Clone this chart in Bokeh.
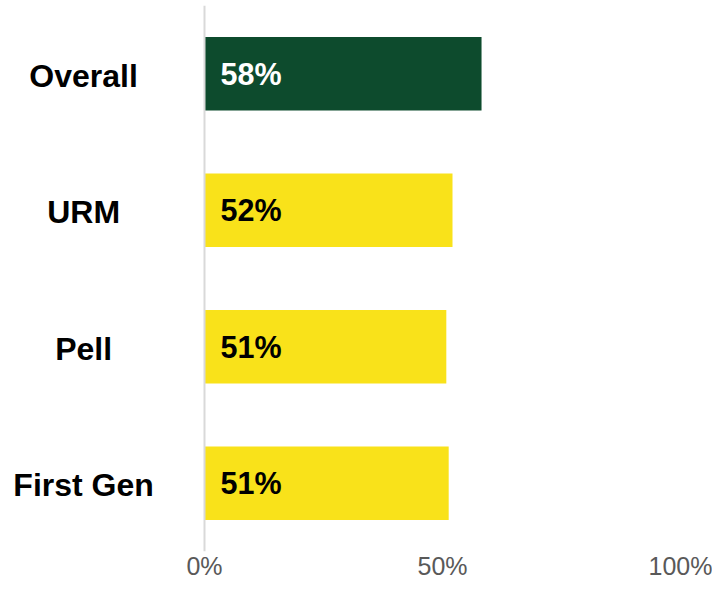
from bokeh.plotting import figure
from bokeh.models import FactorRange, Range1d, FixedTicker, ColumnDataSource, Span
from bokeh.core.properties import value
from bokeh.embed import file_html
from bokeh.resources import INLINE

# ---- data ----
categories = ["Overall", "URM", "Pell", "First Gen"]
rates = [58.2, 52.1, 50.8, 51.3]
rate_labels = ["58%", "52%", "51%", "51%"]
bar_colors = ["#0d4b2d", "#f9e21a", "#f9e21a", "#f9e21a"]
label_colors = ["#ffffff", "#000000", "#000000", "#000000"]
tick_values = [0, 50, 100]
tick_labels = ["0%", "50%", "100%"]

FONT = "Liberation Sans"

# frame spans the whole width; the left part (negative x) holds the category names
p = figure(
    width=712, height=582,
    y_range=FactorRange(*reversed(categories), range_padding=0),
    x_range=Range1d(-42.86, 100),
    output_backend="svg", toolbar_location=None,
    min_border_left=0, min_border_right=32, min_border_top=5, min_border_bottom=0,
)
p.outline_line_color = None
p.grid.grid_line_color = None
p.background_fill_color = "white"
p.yaxis.visible = False

src = ColumnDataSource(dict(cat=categories, rate=rates, lab=rate_labels,
                            color=bar_colors, tcolor=label_colors,
                            zero=[0] * len(categories),
                            name_x=[-25.4] * len(categories)))

p.hbar(y="cat", left=0, right="rate", height=0.54, color="color", line_color=None, source=src)

# value labels inside bars
p.text(x="zero", y="cat", text="lab", x_offset=16, text_align="left", text_baseline="middle",
       text_font=value(FONT), text_font_style="bold", text_font_size="30.5px",
       text_color="tcolor", source=src)

# category names, centered in the left column
p.text(x="name_x", y="cat", text="cat", text_align="center", text_baseline="middle",
       y_offset=2,
       text_font=value(FONT), text_font_style="bold", text_font_size="32px",
       text_color="#000000", source=src)

# light vertical baseline at 0%
p.add_layout(Span(location=0, dimension="height", line_color="#d9d9d9", line_width=2))

# x axis
p.xaxis.ticker = FixedTicker(ticks=tick_values)
p.xaxis.major_label_overrides = {t: l for t, l in zip(tick_values, tick_labels)}
p.xaxis.axis_line_color = None
p.xaxis.major_tick_line_color = None
p.xaxis.minor_tick_line_color = None
p.xaxis.major_tick_out = 0
p.xaxis.major_tick_in = 0
p.xaxis.major_label_standoff = 0
p.xaxis.major_label_text_font = FONT
p.xaxis.major_label_text_font_size = "25px"
p.xaxis.major_label_text_color = "#595959"

open("out.html", "w").write(file_html(p, INLINE))
